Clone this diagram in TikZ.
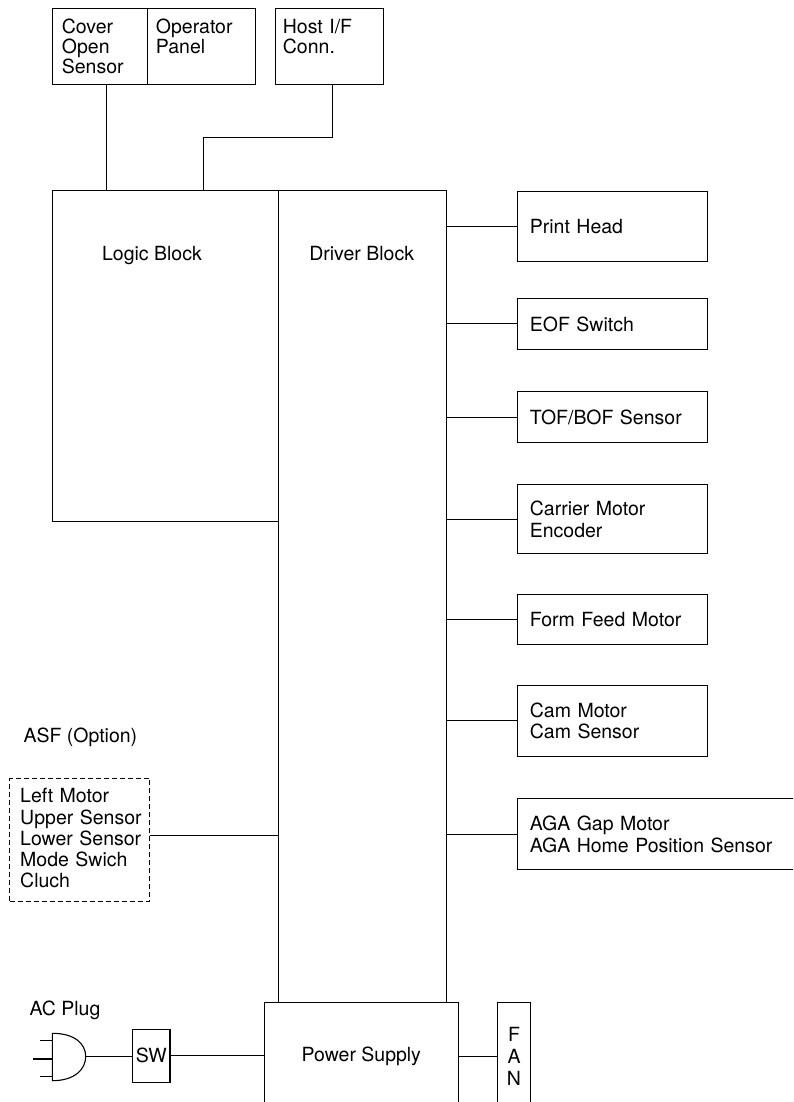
\documentclass[tikz,border=0pt]{standalone}
\usepackage{fontspec}
\setmainfont{TeX Gyre Heros}
\usetikzlibrary{calc}
\newcommand\fsmain{\fontsize{19.5pt}{21.5pt}\selectfont}
\newcommand\fstop{\fontsize{19.5pt}{20pt}\selectfont}
\newcommand\fsasf{\fontsize{19.5pt}{21.3pt}\selectfont}
\newcommand\fsfan{\fontsize{19.5pt}{22pt}\selectfont}
\tikzset{
  ln/.style={line width=1.1pt, draw=black},
  blk/.style={draw=black, line width=1.1pt, rectangle, inner sep=0pt, fill=white},
  rbox/.style={blk, anchor=north west, minimum width=189.4pt, inner xsep=12pt, inner ysep=0pt, text width=165.4pt, align=left},
  lbl/.style={inner sep=0pt},
  dashbox/.style={draw=black, line width=1.1pt, dash pattern=on 5pt off 3pt, rectangle, inner sep=0pt}
}
\begin{document}
\begin{tikzpicture}[x=1pt, y=-1pt, font=\fsmain]
\useasboundingbox (0,0) rectangle (793,1102);
\fill[white] (0,0) rectangle (793,1102);
\clip (0,0) rectangle (793,1102);

% top boxes
\node[blk, anchor=north west, minimum width=94.4pt, minimum height=75.7pt] (cover) at (52.3,8.3) {};
\node[blk, anchor=north west, minimum width=108.3pt, minimum height=75.7pt] (oper) at (146.7,8.3) {};
\node[blk, anchor=north west, minimum width=108.3pt, minimum height=75.7pt] (host) at (275,8.3) {};
\node[lbl, anchor=base west, text width=85pt, align=left, font=\fstop] (covert) at (61.7,33.3) {Cover\\Open\\Sensor};
\node[lbl, anchor=base west, text width=95pt, align=left, font=\fstop] (opert) at (155.7,33.3) {Operator\\Panel};
\node[lbl, anchor=base west, text width=95pt, align=left, font=\fstop] (hostt) at (282.7,33.3) {Host I/F\\Conn.};

% logic and driver blocks
\node[blk, anchor=north west, minimum width=226pt, minimum height=330.4pt] (logic) at (52.3,190.3) {};
\node[blk, anchor=north west, minimum width=167.4pt, minimum height=812.4pt] (drv) at (278.3,190.3) {};
\node[lbl, anchor=base] (logict) at (152,260) {Logic Block};
\node[lbl, anchor=base] (drvt) at (361.7,260) {Driver Block};

% connectors from top boxes
\draw[ln] ($(cover.south west)+(54.2,0)$) -- ($(logic.north west)+(54.2,0)$);
\draw[ln] ($(host.south west)+(57.3,0)$) -- ++(0,52) -| ($(logic.north west)+(151,0)$);

% right side boxes
\node[rbox, minimum height=70pt] (ph) at (517.3,191) {Print Head};
\node[rbox, minimum height=51.3pt] (eof) at (517.3,297.7) {EOF Switch};
\node[rbox, minimum height=51.3pt] (tof) at (517.3,391) {TOF/BOF Sensor};
\node[rbox, minimum height=69.3pt] (cm) at (517.3,484) {Carrier Motor\\Encoder};
\node[rbox, minimum height=50pt] (ff) at (517.3,594.3) {Form Feed Motor};
\node[rbox, minimum height=70.7pt] (cam) at (517.3,685) {Cam Motor\\Cam Sensor};
\node[rbox, minimum height=70.7pt, minimum width=300pt, text width=276pt] (aga) at (517.3,798.3) {AGA Gap Motor\\AGA Home Position Sensor};
\foreach \n in {ph,eof,tof,cm,ff,cam,aga}
  \draw[ln] (\n.west -| drv.east) -- (\n.west);

% ASF option
\node[lbl, anchor=base west] (asfl) at (23.3,742.7) {ASF (Option)};
\node[dashbox, anchor=north west, minimum width=139.7pt, minimum height=123.3pt] (asf) at (9.3,777.7) {};
\node[lbl, anchor=base west, text width=128pt, align=left, font=\fsasf] (asft) at (20,802.7) {Left Motor\\Upper Sensor\\Lower Sensor\\Mode Swich\\Cluch};
\coordinate (asfc) at ($(asf.east)+(0,-4)$);
\draw[ln] (asfc) -- (asfc -| drv.west);

% power section
\node[blk, minimum width=194pt, minimum height=106.6pt] (ps) at (361.3,1056) {Power Supply};
\node[blk, minimum width=33.4pt, minimum height=106.6pt, align=center, font=\fsfan] (fan) at (514,1056) {F\\A\\N};
\node[blk, minimum width=37.3pt, minimum height=53pt] (sw) at (151.3,1055.8) {SW};
\node[lbl, anchor=base west] (acl) at (29.3,1015) {AC Plug};

% AC plug symbol
\draw[ln] (52.3,1033.3) .. controls (75,1033.3) and (85.7,1044) .. (85.7,1056.5) .. controls (85.7,1069) and (75,1080.7) .. (52.3,1080.7) -- cycle;
\coordinate (plugtip) at (85.7,1056.5);
\draw[ln] (40,1040.7) -- (52.3,1040.7);
\draw[ln] (33.3,1059) -- (52.3,1059);
\draw[ln] (40,1076.7) -- (52.3,1076.7);

\draw[ln] (plugtip) -- (plugtip -| sw.west);
\draw[ln] (sw.east) -- (sw.east -| ps.west);
\coordinate (psc) at ($(ps.east)+(0,0.5)$);
\draw[ln] (psc) -- (psc -| fan.west);
\end{tikzpicture}
\end{document}
